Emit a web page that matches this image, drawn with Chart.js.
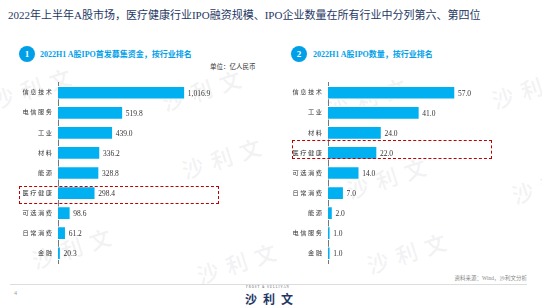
<!DOCTYPE html>
<html>
<head>
<meta charset="utf-8">
<script src="https://cdn.jsdelivr.net/npm/chart.js@4"></script>
<style>
  body { margin: 0; background: #fff; }
  #page { position: relative; width: 542px; height: 305px; overflow: hidden;
    font-family: 'Liberation Serif', 'Noto Sans CJK SC', serif; }
  .abs { position: absolute; white-space: nowrap; }
  .title { left: 8px; top: 6px; font-size: 11px; color: #1f3864; }
  .num { width: 16px; height: 16px; border-radius: 50%; background: #00a0e9; color: #fff;
    font-size: 9px; font-weight: bold; text-align: center; line-height: 16px; }
  .head { font-size: 8px; font-weight: bold; color: #00a0e9; }
  .box { border: 1.3px dashed #c00000; box-sizing: border-box; }
  .wm { color: rgba(60, 60, 80, 0.06); font-size: 22px; font-weight: bold; letter-spacing: 8px;
    transform: rotate(-18deg); font-family: 'Noto Sans CJK SC', sans-serif; }
  canvas { position: absolute; }
</style>
</head>
<body>
<div id="page">
  <div class="abs title">2022年上半年A股市场，医疗健康行业IPO融资规模、IPO企业数量在所有行业中分列第六、第四位</div>

  <div class="abs wm" style="left:-10px;top:70px;">沙利文</div>
  <div class="abs wm" style="left:160px;top:72px;">沙利文</div>
  <div class="abs wm" style="left:180px;top:140px;">沙利文</div>
  <div class="abs wm" style="left:30px;top:230px;">沙利文</div>
  <div class="abs wm" style="left:195px;top:245px;">沙利文</div>
  <div class="abs wm" style="left:325px;top:80px;">沙利文</div>
  <div class="abs wm" style="left:490px;top:70px;">沙利文</div>
  <div class="abs wm" style="left:345px;top:160px;">沙利文</div>
  <div class="abs wm" style="left:365px;top:235px;">沙利文</div>
  <div class="abs wm" style="left:510px;top:165px;">沙利文</div>

  <div class="abs num" style="left:19px;top:46px;">1</div>
  <div class="abs head" style="left:40px;top:48px;">2022H1 A股IPO首发募集资金，按行业排名</div>
  <div class="abs" style="left:210px;top:61px;font-size:6.5px;color:#333;">单位：亿人民币</div>

  <div class="abs num" style="left:291px;top:46px;">2</div>
  <div class="abs head" style="left:313px;top:48px;">2022H1 A股IPO数量，按行业排名</div>

  <canvas id="c1" width="260" height="200" style="left:0;top:73px;width:260px;height:200px;"></canvas>
  <canvas id="c2" width="260" height="200" style="left:270px;top:73px;width:260px;height:200px;"></canvas>

  <div class="abs box" style="left:19px;top:186px;width:200px;height:18px;"></div>
  <div class="abs box" style="left:292px;top:140px;width:200px;height:19px;"></div>

  <div class="abs" style="right:15px;top:274px;font-size:5.5px;color:#888;">资料来源：Wind，沙利文分析</div>
  <div class="abs" style="left:10px;top:284px;width:517px;height:0;border-top:1px solid #ddd;"></div>
  <div class="abs" style="left:14px;top:290px;font-size:6px;color:#999;">4</div>
  <div class="abs" style="left:246px;top:285px;font-size:3px;color:#556;letter-spacing:1px;">FROST &amp; SULLIVAN</div>
  <div class="abs" style="left:245px;top:290px;font-size:12px;font-weight:bold;color:#1f3864;letter-spacing:6px;font-family:'Noto Sans CJK SC',sans-serif;">沙利文</div>
</div>
<script>
const fundCategories = ["信息技术", "电信服务", "工业", "材料", "能源", "医疗健康", "可选消费", "日常消费", "金融"];
const fundValues = [1016.9, 519.8, 439.0, 336.2, 328.8, 298.4, 98.6, 61.2, 20.3];

const countCategories = ["信息技术", "工业", "材料", "医疗健康", "可选消费", "日常消费", "能源", "电信服务", "金融"];
const countValues = [57.0, 41.0, 24.0, 22.0, 14.0, 7.0, 2.0, 1.0, 1.0];

const serif = "'Liberation Serif', 'Noto Sans CJK SC', serif";

const valueLabels = {
  id: "valueLabels",
  afterDatasetsDraw(chart) {
    const ctx = chart.ctx;
    const meta = chart.getDatasetMeta(0);
    ctx.save();
    ctx.font = "7.5px " + serif;
    ctx.fillStyle = "#333";
    ctx.textBaseline = "middle";
    meta.data.forEach((bar, i) => {
      const v = chart.data.datasets[0].data[i];
      const txt = v.toLocaleString("en-US", { minimumFractionDigits: 1, maximumFractionDigits: 1 });
      ctx.fillText(txt, bar.x + 3, bar.y + 1);
    });
    ctx.restore();
  }
};

function makeChart(id, labels, data, max) {
  new Chart(document.getElementById(id), {
    type: "bar",
    data: {
      labels,
      datasets: [{
        data,
        backgroundColor: "#00b0f0",
        borderColor: "#ffffff",
        borderWidth: { right: 1, top: 1, bottom: 1 },
        barThickness: 13
      }]
    },
    options: {
      indexAxis: "y",
      responsive: false,
      animation: false,
      layout: { padding: 0 },
      plugins: { legend: { display: false }, tooltip: { enabled: false } },
      scales: {
        x: { display: false, min: 0, max },
        y: {
          afterFit: (s) => { s.width = 58; },
          grid: { display: false, drawTicks: false },
          border: { display: true, color: "#777", width: 1 },
          ticks: {
            padding: 6,
            color: "#333",
            font: { size: 6.2, family: serif },
            // spaced-out characters like the original
            callback: (v, i) => labels[i].split("").join(" ")
          }
        }
      }
    },
    plugins: [valueLabels]
  });
}

makeChart("c1", fundCategories, fundValues, 1620);
makeChart("c2", countCategories, countValues, 90.7);
</script>
</body>
</html>
